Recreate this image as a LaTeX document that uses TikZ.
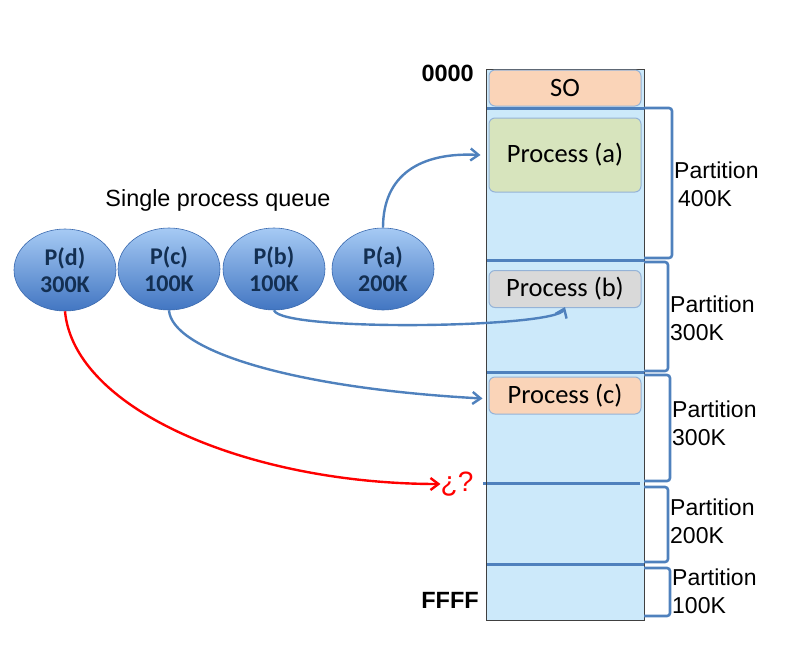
\documentclass[tikz,border=0pt]{standalone}
\usepackage{fontspec}
\setmainfont{Liberation Sans}
\newfontfamily\calibri{Carlito}
\usetikzlibrary{arrows.meta, shapes.geometric, positioning}
\definecolor{memFill}{HTML}{CCE9FA}
\definecolor{lineBlue}{HTML}{4F81BD}
\definecolor{procEdge}{HTML}{95B3D7}
\definecolor{peach}{HTML}{FAD4B8}
\definecolor{sage}{HTML}{D7E4BD}
\definecolor{lightGray}{HTML}{D9D9D9}
\definecolor{queueTop}{HTML}{A6CAF4}
\definecolor{queueBot}{HTML}{4276C2}
\definecolor{queueText}{HTML}{132F52}
\definecolor{alertRed}{HTML}{FF0000}
\tikzset{
    memCol/.style={draw=black!75, line width=0.8pt},
    procBox/.style={rectangle, rounded corners=6pt, draw=procEdge, line width=1pt, minimum width=152pt, inner sep=0pt, font=\calibri\fontsize{26.5}{30}\selectfont},
    queueNode/.style={ellipse, draw=queueBot!90!black, line width=0.6pt, top color=queueTop, bottom color=queueBot, minimum width=102pt, minimum height=82pt, inner sep=0pt, align=center, text=queueText, font=\calibri\bfseries\fontsize{24}{27}\selectfont},
    partLine/.style={draw=lineBlue, line width=3pt},
    partBrace/.style={draw=lineBlue, line width=2.6pt, rounded corners=3pt},
    partLabel/.style={anchor=west, align=left, inner sep=0pt, font=\fontsize{23}{28}\selectfont},
    addrLabel/.style={anchor=east, inner sep=0pt, font=\bfseries\fontsize{23.5}{26}\selectfont},
    blueArrow/.style={-{Straight Barb[length=8pt, width=12pt, line width=2.4pt]}, draw=lineBlue, line width=2.4pt},
    redArrow/.style={-{Straight Barb[length=8pt, width=12pt, line width=2.4pt]}, draw=alertRed, line width=2.4pt},
}
\newcommand{\drawPartition}[6]{
    \draw[partBrace] (644,#1) -- (#3,#1) -- (#3,#2) -- (644,#2);
    \node[partLabel] (#4) at (#3+2,#5) {#6};
}

\begin{document}
\begin{tikzpicture}[x=1pt, y=-1pt]
    \useasboundingbox (0,0) rectangle (808,654);

    % memory column
    \fill[memFill] (486,69) rectangle (644,620);
    \draw[partLine] (486,108) -- (644,108);
    \draw[partLine] (486,260) -- (644,260);
    \draw[partLine] (486,372) -- (644,372);
    \draw[partLine] (483,483) -- (640,483);
    \draw[partLine] (486,564) -- (644,564);
    \draw[memCol] (486,69) rectangle (644,620);

    \node[procBox, fill=peach, minimum height=36pt] (so) at (565,88) {SO};
    \node[procBox, fill=sage, minimum height=74pt] (pa) at (565,155) {Process (a)};
    \node[procBox, fill=lightGray, minimum height=37pt] (pb) at (565,289) {Process (b)};
    \node[procBox, fill=peach, minimum height=37pt] (pc) at (565,395.5) {Process (c)};

    \node[addrLabel] (top) at (474,73) {0000};
    \node[addrLabel] (bot) at (479,600) {FFFF};

    % partitions
    \drawPartition{108}{258}{672}{part1}{184}{Partition\\\hspace{4pt}400K}
    \drawPartition{262}{371}{668}{part2}{318}{Partition\\300K}
    \drawPartition{375}{481}{670}{part3}{423}{Partition\\300K}
    \drawPartition{487}{562}{668}{part4}{521}{Partition\\200K}
    \drawPartition{568}{616}{670}{part5}{591}{Partition\\100K}

    % queue
    \node[font=\fontsize{23.4}{26}\selectfont] (qtitle) at (218,200) {Single process queue};
    \node[queueNode] (ed) at (65,270) {P(d)\\300K};
    \node[queueNode] (ec) at (169,269) {P(c)\\100K};
    \node[queueNode] (eb) at (274,269) {P(b)\\100K};
    \node[queueNode] (ea) at (383,269) {P(a)\\200K};

    \node[text=alertRed, inner sep=0pt, font=\fontsize{28}{30}\selectfont] (ask) at (457,484) {¿?};

    % placements
    \draw[blueArrow] (ea.north) .. controls (383,175) and (420,152) .. ([xshift=-8pt]pa.west);
    \draw[blueArrow] (eb.south) .. controls (282,332) and (556,328) .. ([yshift=1pt]pb.south);
    \draw[blueArrow] (ec.south) .. controls (172,350) and (290,388) .. ([xshift=-6pt, yshift=-3pt]pc.west);
    \draw[redArrow] (ed.south) .. controls (74,410) and (250,484) .. (ask.west);

\end{tikzpicture}
\end{document}
